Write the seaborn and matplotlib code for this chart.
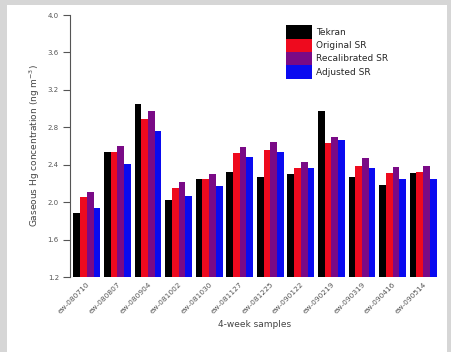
import numpy as np
import pandas as pd
import matplotlib
matplotlib.use("Agg")
import matplotlib.pyplot as plt
from matplotlib.patches import Rectangle
import seaborn as sns

samples = ["ew-080710", "ew-080807", "ew-080904", "ew-081002", "ew-081030", "ew-081127",
           "ew-081225", "ew-090122", "ew-090219", "ew-090319", "ew-090416", "ew-090514"]
series = ["Tekran", "Original SR", "Recalibrated SR", "Adjusted SR"]
tekran = [1.88, 2.54, 3.05, 2.02, 2.25, 2.32, 2.27, 2.30, 2.97, 2.27, 2.18, 2.31]
original_sr = [2.06, 2.54, 2.89, 2.15, 2.25, 2.53, 2.56, 2.36, 2.63, 2.39, 2.31, 2.32]
recalibrated_sr = [2.11, 2.60, 2.97, 2.21, 2.30, 2.59, 2.64, 2.43, 2.70, 2.47, 2.38, 2.39]
adjusted_sr = [1.94, 2.41, 2.76, 2.07, 2.17, 2.48, 2.54, 2.37, 2.66, 2.36, 2.25, 2.25]
colors = ["#000000", "#ee0a1e", "#7a0a86", "#0a0af0"]

df = pd.DataFrame({
    "sample": samples * 4,
    "series": np.repeat(series, len(samples)),
    "value": tekran + original_sr + recalibrated_sr + adjusted_sr,
})

sns.set_style("ticks")
plt.rcParams["font.family"] = ["DejaVu Sans"]

fig = plt.figure(figsize=(4.52, 3.52), dpi=100, facecolor="#d6d6d6")
fig.patches.append(Rectangle((7 / 452, 0), 440 / 452, 347 / 352, transform=fig.transFigure,
                             facecolor="white", edgecolor="none", zorder=-1))
ax = fig.add_axes([70 / 452, 75 / 352, 370 / 452, 262 / 352])
ax.set_facecolor("none")

sns.barplot(data=df, x="sample", y="value", hue="series", palette=colors,
            width=0.88, gap=0, saturation=1, edgecolor="none", ax=ax)

ax.set_ylim(1.2, 4.0)
ax.set_xlim(-0.55, 11.55)
ticks = np.arange(1.2, 4.01, 0.4)
ax.set_yticks(ticks)
ax.set_yticklabels([f"{t:.1f}" for t in ticks])
ax.tick_params(axis="y", labelsize=5, colors="#555555", length=5, width=0.8, pad=3)
ax.tick_params(axis="x", labelsize=5.3, colors="#555555", length=0, pad=3)
plt.setp(ax.get_xticklabels(), rotation=45, ha="right", rotation_mode="anchor")
sns.despine(ax=ax, top=True, right=True, bottom=True)
ax.spines["left"].set_color("#555555")
ax.spines["left"].set_linewidth(0.8)

ax.set_xlabel("4-week samples", fontsize=6.5, color="#444444", labelpad=4)
ax.set_ylabel("Gaseous Hg concentration (ng m$^{-3}$)", fontsize=6.5, color="#444444", labelpad=4)

ax.legend(loc="upper left", bbox_to_anchor=(0.574, 0.975), frameon=False, fontsize=6.5,
          handlelength=2.9, handleheight=1.9, labelspacing=0, handletextpad=0.4,
          borderaxespad=0, title=None)

plt.savefig("out.png", dpi=100, facecolor=fig.get_facecolor())
